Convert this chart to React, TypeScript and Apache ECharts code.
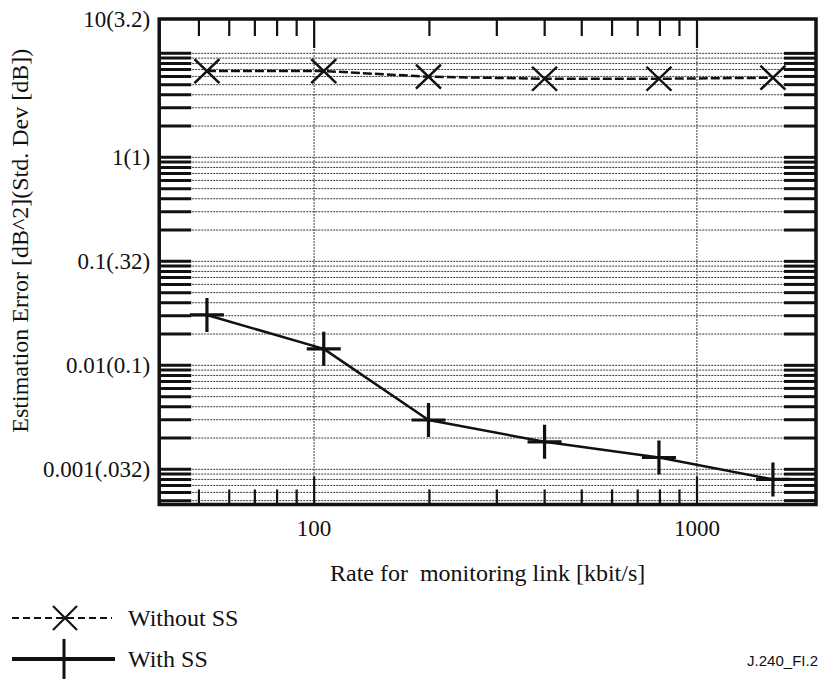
import React, { useEffect, useRef } from "react";
import * as echarts from "echarts";

// ---- data ----
const rates = [52.5, 106, 199, 400, 796, 1580]; // kbit/s
const withoutSS = [6.76, 6.76, 5.96, 5.7, 5.7, 5.83];
const withSS = [0.0305, 0.0144, 0.00298, 0.00184, 0.0013, 0.0008];

// ---- axes ----
const X_MIN = 39.4;
const X_MAX = 2047;
const Y_MIN = 0.000459;
const Y_MAX = 21.4;

const xLabelValues = [100, 1000];
const xTickLabels = ["100", "1000"];
const xMajorTicks = [100, 1000];
const xMinorTicks = [50, 60, 70, 80, 90, 200, 300, 400, 500, 600, 700, 800, 900];

const yLabelValues = [0.001, 0.01, 0.1, 1, 21.3];
const yTickLabels = ["0.001(.032)", "0.01(0.1)", "0.1(.32)", "1(1)", "10(3.2)"];
const yDecades = [0.0001, 0.001, 0.01, 0.1, 1];
const yMantissas = [1, 2, 3, 4, 5, 6, 7, 8, 9];
const yTopGrid = 10;

const SERIF = "Liberation Serif";
const INK = "#111";
const GRID = "#3a3a3a";

const L = (v: number) => Math.log10(v);

function pickLabel(values: number[], texts: string[], v: number) {
  let best = 0;
  let bd = Infinity;
  values.forEach((x, i) => {
    const d = Math.abs(L(x) - v);
    if (d < bd) {
      bd = d;
      best = i;
    }
  });
  return bd < 1e-3 ? texts[best] : "";
}

export default function App() {
  const ref = useRef<HTMLDivElement>(null);

  useEffect(() => {
    if (!ref.current) return;
    const chart = echarts.init(ref.current, undefined, { renderer: "svg" });

    const yGrid: number[] = [];
    yDecades.forEach((d) =>
      yMantissas.forEach((m) => {
        const v = m * d;
        if (v >= Y_MIN && v < yTopGrid) yGrid.push(v);
      })
    );
    yGrid.push(yTopGrid);

    const xTicks = [
      ...xMinorTicks.map((v) => [L(v), L(Y_MIN), 0]),
      ...xMajorTicks.map((v) => [L(v), L(Y_MIN), 1]),
    ];

    const option: any = {
      animation: false,
      backgroundColor: "#ffffff",
      textStyle: { fontFamily: SERIF, color: INK },
      grid: {
        left: 157,
        top: 19,
        width: 659,
        height: 485.5,
        show: true,
        borderColor: INK,
        borderWidth: 3.5,
        backgroundColor: "transparent",
      },
      xAxis: {
        type: "value",
        min: L(X_MIN),
        max: L(X_MAX),
        axisLine: { show: false },
        axisTick: { show: false },
        splitLine: { show: false },
        axisLabel: {
          customValues: xLabelValues.map(L),
          formatter: (v: number) => pickLabel(xLabelValues, xTickLabels, v),
          margin: 12,
          fontSize: 23,
          color: INK,
          fontFamily: SERIF,
        },
        name: "Rate for  monitoring link [kbit/s]",
        nameLocation: "middle",
        nameGap: 56,
        nameTextStyle: { fontSize: 24, color: INK, fontFamily: SERIF },
      },
      yAxis: {
        type: "value",
        min: L(Y_MIN),
        max: L(Y_MAX),
        axisLine: { show: false },
        axisTick: { show: false },
        splitLine: { show: false },
        axisLabel: {
          customValues: yLabelValues.map(L),
          formatter: (v: number) => pickLabel(yLabelValues, yTickLabels, v),
          margin: 9,
          fontSize: 23,
          color: INK,
          fontFamily: SERIF,
          padding: [8, 0, 0, 0],
        },
        name: "Estimation Error [dB^2](Std. Dev [dB])",
        nameLocation: "middle",
        nameGap: 121,
        nameTextStyle: {
          fontSize: 24,
          color: INK,
          fontFamily: SERIF,
          padding: [0, 0, 0, 42],
        },
      },
      series: [
        {
          type: "custom",
          name: "ygrid",
          silent: true,
          clip: false,
          data: yGrid.map((v) => [L(X_MIN), L(v)]),
          renderItem: (params: any, api: any) => {
            const cs = params.coordSys;
            const y = api.coord([api.value(0), api.value(1)])[1];
            const Lx = cs.x;
            const Rx = cs.x + cs.width;
            return {
              type: "group",
              children: [
                {
                  type: "line",
                  shape: { x1: Lx, y1: y, x2: Rx, y2: y },
                  style: { stroke: GRID, lineWidth: 1, lineDash: [2, 1] },
                },
                {
                  type: "rect",
                  shape: { x: Lx, y: y - 1.5, width: 32, height: 3 },
                  style: { fill: INK },
                },
                {
                  type: "rect",
                  shape: { x: Rx - 32, y: y - 1.5, width: 32, height: 3 },
                  style: { fill: INK },
                },
              ],
            };
          },
        },
        {
          type: "custom",
          name: "xgrid",
          silent: true,
          clip: false,
          data: xTicks,
          renderItem: (params: any, api: any) => {
            const cs = params.coordSys;
            const x = api.coord([api.value(0), api.value(1)])[0];
            const major = api.value(2) === 1;
            const top = cs.y;
            const bottom = cs.y + cs.height;
            const children: any[] = [];
            if (major) {
              children.push({
                type: "line",
                shape: { x1: x, y1: top, x2: x, y2: bottom },
                style: { stroke: GRID, lineWidth: 1, lineDash: [2, 1] },
              });
            }
            const lenTop = major ? 29 : 17;
            const lenBot = major ? 28 : 15;
            children.push({
              type: "rect",
              shape: { x: x - 1, y: top, width: 2.2, height: lenTop },
              style: { fill: INK },
            });
            children.push({
              type: "rect",
              shape: { x: x - 1, y: bottom - lenBot, width: 2.2, height: lenBot },
              style: { fill: INK },
            });
            return { type: "group", children };
          },
        },
        {
          type: "line",
          name: "Without SS",
          data: rates.map((r, i) => [L(r), L(withoutSS[i])]),
          symbol: "path://M0 0L25 24M25 0L0 24",
          symbolSize: [25, 24],
          lineStyle: { color: INK, width: 2.5, type: [9, 3] },
          itemStyle: { color: INK, borderColor: INK, borderWidth: 2.5 },
          z: 5,
        },
        {
          type: "line",
          name: "With SS",
          data: rates.map((r, i) => [L(r), L(withSS[i])]),
          symbol: "path://M0 17L34 17M17 0L17 34",
          symbolSize: 34,
          lineStyle: { color: INK, width: 2.5 },
          itemStyle: { color: INK, borderColor: INK, borderWidth: 3.2 },
          z: 5,
        },
      ],
      graphic: [
        {
          type: "line",
          shape: { x1: 12, y1: 618, x2: 112, y2: 618 },
          style: { stroke: INK, lineWidth: 2.2, lineDash: [7, 4] },
        },
        {
          type: "line",
          shape: { x1: 53, y1: 606, x2: 77, y2: 630 },
          style: { stroke: INK, lineWidth: 2.2 },
        },
        {
          type: "line",
          shape: { x1: 77, y1: 606, x2: 53, y2: 630 },
          style: { stroke: INK, lineWidth: 2.2 },
        },
        {
          type: "text",
          x: 128,
          y: 618,
          style: {
            text: "Without SS",
            fontSize: 24,
            fontFamily: SERIF,
            fill: INK,
            verticalAlign: "middle",
          },
        },
        {
          type: "line",
          shape: { x1: 12, y1: 659, x2: 115, y2: 659 },
          style: { stroke: INK, lineWidth: 4 },
        },
        {
          type: "line",
          shape: { x1: 64, y1: 639, x2: 64, y2: 679 },
          style: { stroke: INK, lineWidth: 3 },
        },
        {
          type: "text",
          x: 128,
          y: 659,
          style: {
            text: "With SS",
            fontSize: 24,
            fontFamily: SERIF,
            fill: INK,
            verticalAlign: "middle",
          },
        },
        {
          type: "text",
          x: 818,
          y: 660,
          style: {
            text: "J.240_FI.2",
            fontSize: 15,
            fontFamily: "Liberation Sans",
            fill: INK,
            align: "right",
            verticalAlign: "middle",
          },
        },
      ],
    };

    chart.setOption(option);
    return () => chart.dispose();
  }, []);

  return (
    <div
      ref={ref}
      style={{ position: "fixed", left: 0, top: 0, width: 825, height: 682, background: "#fff" }}
    />
  );
}
